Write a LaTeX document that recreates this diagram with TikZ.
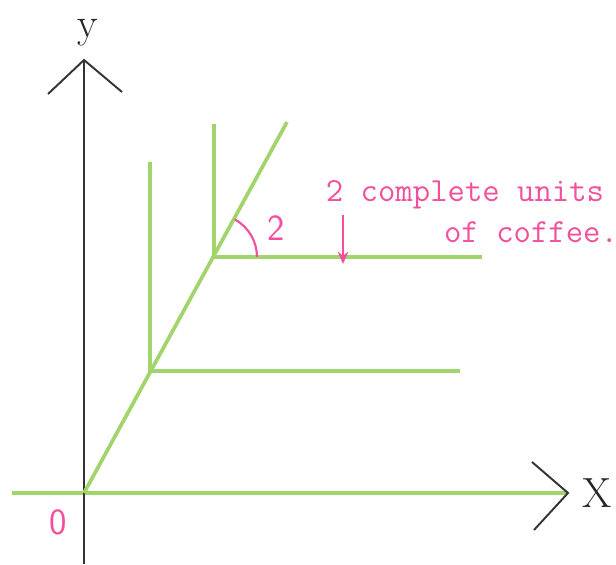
\documentclass[tikz,border=0pt]{standalone}
\usepackage{tikz}
\usetikzlibrary{positioning, calc, arrows.meta}
\definecolor{mygreen}{HTML}{A2D46C}
\definecolor{mypink}{HTML}{F2509C}
\tikzset{
	axisline/.style={
			draw=black!80,
			line width=1.1pt
		},
	greenline/.style={
			draw=mygreen,
			line width=2.1pt
		},
	pinkline/.style={
			draw=mypink,
			line width=1.2pt
		},
	axislabel/.style={
			font=\fontsize{24}{26}\selectfont,
			text=black!85,
			inner sep=0pt
		},
	pinklabel/.style={
			font=\fontsize{21}{24}\selectfont\sffamily,
			text=mypink,
			inner sep=0pt
		},
	notetext/.style={
			font=\fontsize{19.2}{22}\selectfont\ttfamily,
			text=mypink,
			inner sep=0pt
		}
}

\begin{document}
\begin{tikzpicture}

  \useasboundingbox (0,0) rectangle (12.32,11.28);

  % axes
  \coordinate (o) at (1.68,1.42);
  \coordinate (ybot) at (1.68,0);
  \coordinate (ytop) at (1.68,10.08);
  \coordinate (yarml) at (0.96,9.40);
  \coordinate (yarmr) at (2.44,9.44);
  \coordinate (xleft) at (0.24,1.42);
  \coordinate (xtip) at (11.36,1.42);
  \coordinate (xarmu) at (10.64,2.04);
  \coordinate (xarmd) at (10.68,0.68);

  \draw[greenline] (xleft) -- (xtip);
  \draw[axisline] (ybot) -- (ytop);
  \draw[axisline] (yarml) -- (ytop) -- (yarmr);
  \draw[axisline] (xarmu) -- (xtip) -- (xarmd);

  \node[axislabel] (ylab) at (1.76,10.62) {y};
  \node[axislabel] (xlab) at (11.94,1.42) {X};
  \node[pinklabel] (zero) at (1.16,0.84) {0};

  % expansion path and the two units
  \coordinate (diagend) at (5.74,8.84);
  \coordinate (u1) at (3.00,3.86);
  \coordinate (u1top) at (3.00,8.04);
  \coordinate (u1end) at (9.20,3.86);
  \coordinate (u2) at (4.28,6.14);
  \coordinate (u2top) at (4.28,8.80);
  \coordinate (u2end) at (9.64,6.14);

  \draw[greenline] (o) -- (diagend);
  \draw[greenline] (u1top) -- (u1) -- (u1end);
  \draw[greenline] (u2top) -- (u2) -- (u2end);

  % angle and note
  \draw[pinkline] ($(u2)+(0.86,0)$) arc[start angle=0, end angle=61, radius=0.86];
  \node[pinklabel] (two) at (5.52,6.72) {2};

  \node[notetext] (note1) at (9.30,7.38) {2 complete units};
  \node[notetext] (note2) at (10.62,6.64) {of coffee.};

  \coordinate (arrtop) at (6.86,6.98);
  \coordinate (arrbot) at (6.86,6.00);
  \draw[pinkline, -{Stealth[length=7pt, width=6pt]}] (arrtop) -- (arrbot);

\end{tikzpicture}
\end{document}
